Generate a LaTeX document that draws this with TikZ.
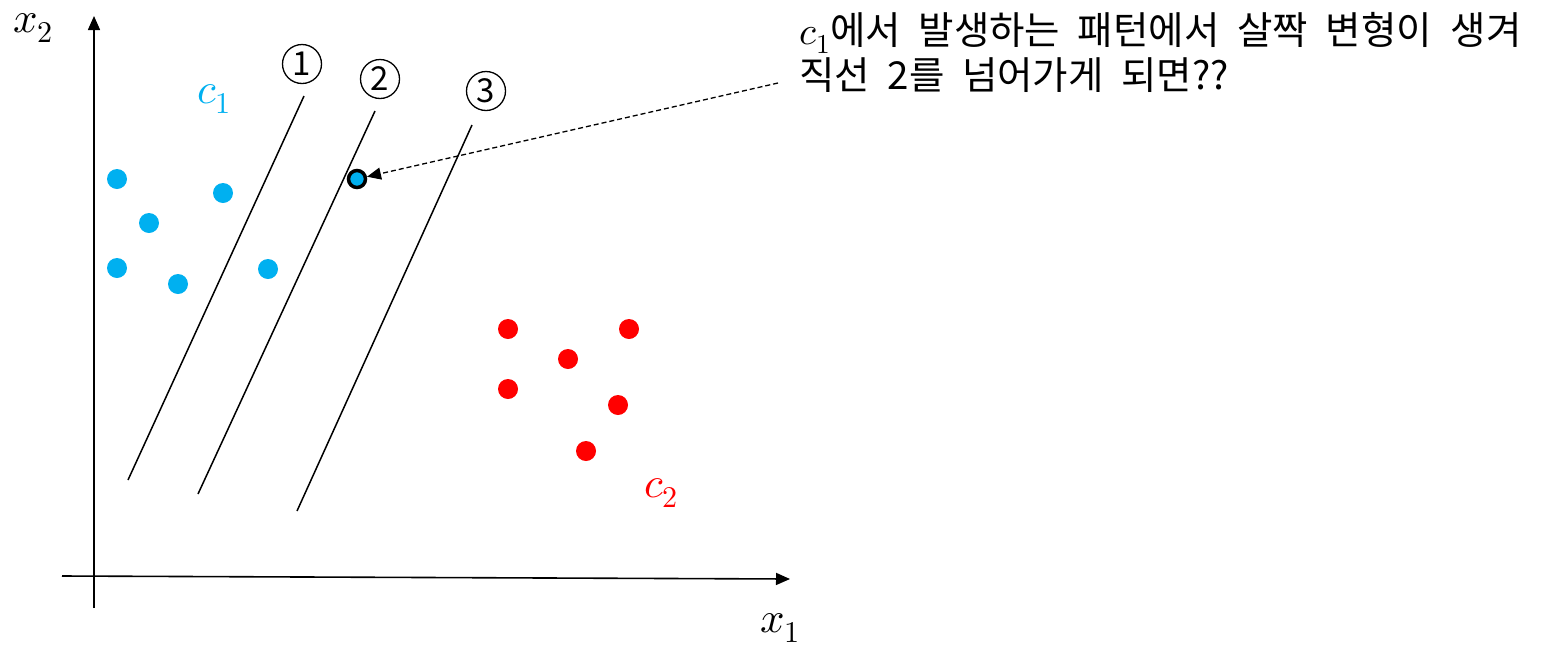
\documentclass[tikz,border=0pt]{standalone}
\usepackage{fontspec}
\usepackage{unicode-math}
\setmathfont{Latin Modern Math}
\newfontfamily\kr{Noto Sans CJK KR}
\usetikzlibrary{arrows.meta}
\definecolor{cblue}{RGB}{0,176,240}
\definecolor{cred}{RGB}{255,0,0}
\begin{document}
\begin{tikzpicture}[x=1pt,y=-1pt,
  axis/.style={line width=1.6pt,-{Triangle[length=14pt,width=12pt]}},
  sep/.style={line width=1.5pt},
  bdot/.style={circle,fill=cblue,inner sep=0pt,minimum size=20pt},
  rdot/.style={circle,fill=cred,inner sep=0pt,minimum size=20pt},
  num/.style={circle,draw,line width=1.3pt,inner sep=0pt,minimum size=39pt,font=\kr\fontsize{33}{33}\selectfont},
  mlab/.style={font=\fontsize{43}{43}\selectfont,inner sep=0pt,anchor=base west},
  krtext/.style={font=\kr\fontsize{38.5}{45}\selectfont,anchor=base west,inner sep=0pt}
]
\useasboundingbox (0,0) rectangle (1558,646);
% axes
\coordinate (yb) at (94,608);
\coordinate (yt) at (94,16);
\coordinate (xl) at (62,576);
\coordinate (xr) at (790,579);
\draw[axis] (yb) -- (yt);
\draw[axis] (xl) -- (xr);
\node[mlab] (x2) at (13,32) {$x_2$};
\node[mlab] (x1) at (760,632) {$x_1$};
% separating lines
\coordinate (l1a) at (128,480); \coordinate (l1b) at (304,96);
\coordinate (l2a) at (198,494); \coordinate (l2b) at (375,111);
\coordinate (l3a) at (297,511); \coordinate (l3b) at (472,125);
\draw[sep] (l1a) -- (l1b);
\draw[sep] (l2a) -- (l2b);
\draw[sep] (l3a) -- (l3b);
\node[num] (n1) at (302,64) {1};
\node[num] (n2) at (380,79) {2};
\node[num] (n3) at (486,91) {3};
% class labels
\node[mlab,text=cblue] (c1) at (197,103) {$c_1$};
\node[mlab,text=cred] (c2) at (644,497) {$c_2$};
% blue points
\node[bdot] (b1) at (117,179) {};
\node[bdot] (b2) at (223,193) {};
\node[bdot] (b3) at (149,223) {};
\node[bdot] (b4) at (117,268) {};
\node[bdot] (b5) at (178,284) {};
\node[bdot] (b6) at (268,269) {};
% special point
\node[circle,draw=black,line width=3.5pt,fill=cblue,inner sep=0pt,minimum size=17pt] (sp) at (357,179) {};
% red points
\node[rdot] (r1) at (508,329) {};
\node[rdot] (r2) at (629,329) {};
\node[rdot] (r3) at (568,359) {};
\node[rdot] (r4) at (508,389) {};
\node[rdot] (r5) at (618,405) {};
\node[rdot] (r6) at (586,451) {};
% annotation
\node[krtext] (t1) at (799,44) {\vtop{\lineskiplimit=-100pt\baselineskip=45pt
  \hbox{{\fontsize{39}{40}\selectfont\smash{$c_1$}}에서\hspace{9pt} 발생하는\hspace{9pt} 패턴에서\hspace{9pt} 살짝\hspace{9pt} 변형이\hspace{10pt} 생겨}
  \hbox{직선\hspace{9pt} 2를\hspace{9pt} 넘어가게\hspace{9pt} 되면??}}};
\coordinate (as) at (778,83);
\draw[line width=1.3pt,dash pattern=on 5pt off 3pt,-{Triangle[length=14pt,width=12pt]}] (as) -- (sp);
\end{tikzpicture}
\end{document}
